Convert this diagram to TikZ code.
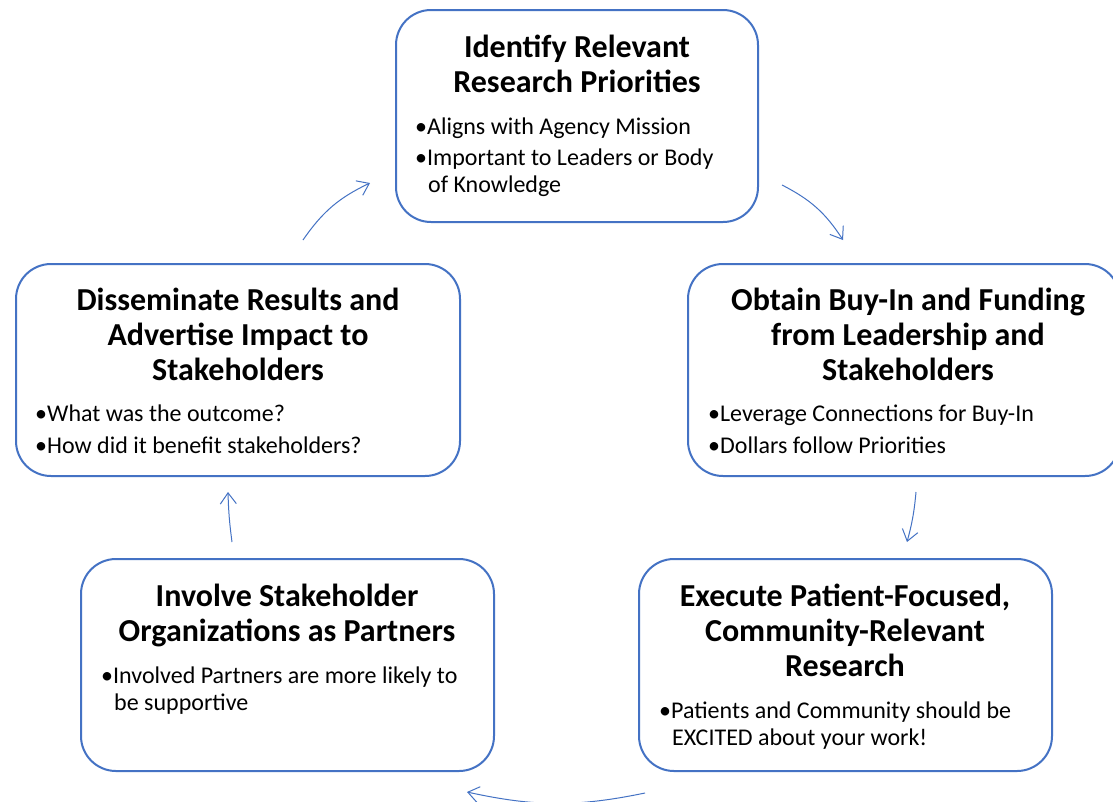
\documentclass[tikz,border=0pt]{standalone}
\usepackage{fontspec}
\setmainfont{Carlito}
\usetikzlibrary{arrows.meta}

\definecolor{cycleblue}{HTML}{4472C4}

\tikzset{
  stagebox/.style={draw=cycleblue, line width=2pt, rounded corners=35pt, fill=white},
  stagetitle/.style={font=\fontsize{32}{35}\selectfont\bfseries, align=center, anchor=north, inner sep=0pt},
  stagenotes/.style={font=\fontsize{24}{27}\selectfont, align=left, anchor=north west, inner sep=0pt},
  cyclearrow/.style={-{Straight Barb[length=11pt,width=16pt]}, draw=cycleblue, line width=1pt},
}

\begin{document}
\begin{tikzpicture}[x=1pt, y=-1pt]
    % Page area, y runs downwards
    \path[use as bounding box, fill=white] (0,0) rectangle (1113,801);

    % The five stages of the cycle
    \node[stagebox, minimum width=362pt, minimum height=212pt] (identify) at (577,116) {};
    \node[stagebox, minimum width=432pt, minimum height=212pt] (obtain) at (904,370) {};
    \node[stagebox, minimum width=413pt, minimum height=212pt] (execute) at (845.5,665) {};
    \node[stagebox, minimum width=413pt, minimum height=212pt] (involve) at (287.5,665) {};
    \node[stagebox, minimum width=444pt, minimum height=212pt] (disseminate) at (238,370) {};

    % Headings
    \node[stagetitle] (identify title) at (577,35) {Identify Relevant\\Research Priorities};
    \node[stagetitle] (obtain title) at (908,288) {Obtain Buy-In and Funding\\from Leadership and\\Stakeholders};
    \node[stagetitle] (execute title) at (845,584) {Execute Patient-Focused,\\Community-Relevant\\Research};
    \node[stagetitle] (involve title) at (287,584) {Involve Stakeholder\\Organizations as Partners};
    \node[stagetitle] (disseminate title) at (238,288) {Disseminate Results and\\Advertise Impact to\\Stakeholders};

    % Bullet points
    \node[stagenotes] (identify notes) at (415,118)
        {•Aligns with Agency Mission\\[4pt]•Important to Leaders or Body\\\hspace*{13pt}of Knowledge};
    \node[stagenotes] (obtain notes) at (708,405)
        {•Leverage Connections for Buy-In\\[5pt]•Dollars follow Priorities};
    \node[stagenotes] (execute notes) at (659,702)
        {•Patients and Community should be\\\hspace*{13pt}EXCITED about your work!};
    \node[stagenotes] (involve notes) at (101,667)
        {•Involved Partners are more likely to\\\hspace*{13pt}be supportive};
    \node[stagenotes] (disseminate notes) at (35,405)
        {•What was the outcome?\\[5pt]•How did it benefit stakeholders?};

    % Arrow ends between the boxes
    \coordinate (identify out) at (782,185);
    \coordinate (obtain in) at (843,240);
    \coordinate (obtain out) at (916,492);
    \coordinate (execute in) at (907,542);
    \coordinate (execute out) at (645,793);
    \coordinate (involve in) at (467,792);
    \coordinate (involve out) at (232,542);
    \coordinate (disseminate in) at (228,492);
    \coordinate (disseminate out) at (303,240);
    \coordinate (identify in) at (370,183);

    % Clockwise arrows
    \draw[cyclearrow] (identify out) to[bend left=15] (obtain in);
    \draw[cyclearrow] (obtain out) to[bend left=5] (execute in);
    \draw[cyclearrow] (execute out) to[bend left=12] (involve in);
    \draw[cyclearrow] (involve out) to[bend left=3] (disseminate in);
    \draw[cyclearrow] (disseminate out) to[bend left=15] (identify in);
\end{tikzpicture}
\end{document}
